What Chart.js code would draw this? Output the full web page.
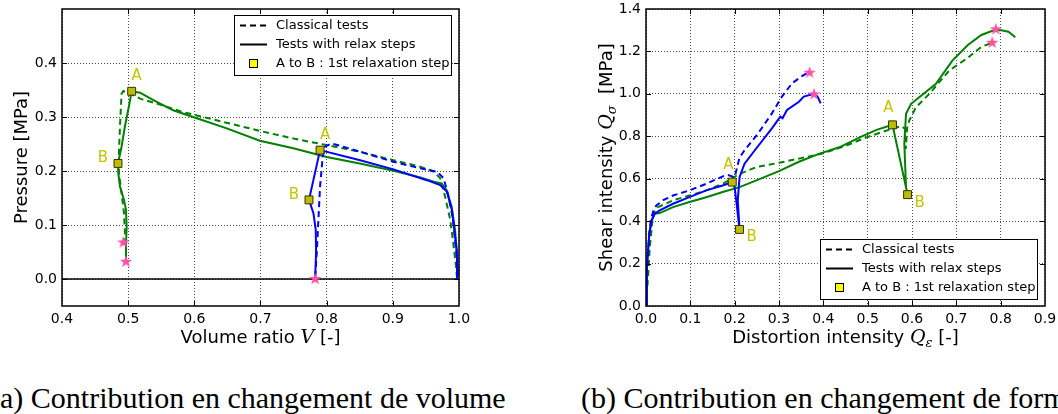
<!DOCTYPE html>
<html><head><meta charset="utf-8">
<script src="https://cdn.jsdelivr.net/npm/chart.js@4/dist/chart.umd.min.js"></script>
<style>
html,body{margin:0;padding:0;background:#fff;overflow:hidden;}
body{width:1058px;height:414px;position:relative;}
canvas{position:absolute;top:0;}
#cA{left:0;width:470px;height:350px;}
#cB{left:530px;width:528px;height:350px;}
.cap{position:absolute;top:383px;font-family:'Liberation Serif',serif;font-size:30px;line-height:30px;white-space:nowrap;color:#000;}
</style></head><body>
<canvas id="cA" width="470" height="350"></canvas>
<canvas id="cB" width="528" height="350"></canvas>
<div class="cap" style="left:-10px">(a) Contribution en changement de volume</div>
<div class="cap" style="left:581px">(b) Contribution en changement de forme</div>
<script>
// ---------- (a) Volume ratio V vs Pressure ----------
const volXTicks = [0.4, 0.5, 0.6, 0.7, 0.8, 0.9, 1.0];
const volYTicks = [0.0, 0.1, 0.2, 0.3, 0.4];

const volGreenClassicV = [0.997, 0.9955, 0.992, 0.9868, 0.979, 0.9717, 0.962, 0.9415, 0.901, 0.8506, 0.800, 0.750, 0.700, 0.650, 0.600, 0.583, 0.543, 0.518, 0.505, 0.4927, 0.490, 0.4876, 0.486, 0.486, 0.490, 0.4937, 0.4952, 0.4927];
const volGreenClassicP = [0.002, 0.023, 0.060, 0.1095, 0.1525, 0.1865, 0.1987, 0.208, 0.220, 0.2356, 0.248, 0.260, 0.274, 0.289, 0.304, 0.309, 0.325, 0.334, 0.342, 0.348, 0.343, 0.282, 0.2326, 0.196, 0.159, 0.122, 0.085, 0.0676];

const volGreenRelaxV = [0.9985, 0.997, 0.994, 0.9889, 0.981, 0.9738, 0.962, 0.9415, 0.901, 0.850, 0.800, 0.7496, 0.699, 0.649, 0.598, 0.568, 0.543, 0.530, 0.518, 0.5053, 0.500, 0.495, 0.490, 0.4846, 0.4851, 0.4876, 0.4937, 0.4967, 0.4977, 0.4967, 0.4967];
const volGreenRelaxP = [0.005, 0.048, 0.091, 0.134, 0.165, 0.177, 0.180, 0.188, 0.2005, 0.214, 0.226, 0.242, 0.256, 0.279, 0.300, 0.3125, 0.328, 0.337, 0.345, 0.3476, 0.3125, 0.282, 0.245, 0.214, 0.196, 0.171, 0.1465, 0.128, 0.097, 0.062, 0.032];

const volBlueClassicV = [0.998, 0.996, 0.991, 0.9843, 0.9768, 0.9667, 0.9415, 0.901, 0.8506, 0.8252, 0.8076, 0.7975, 0.794, 0.790, 0.7875, 0.785, 0.7826];
const volBlueClassicP = [0.005, 0.048, 0.1095, 0.1525, 0.1865, 0.1987, 0.205, 0.217, 0.2356, 0.245, 0.251, 0.245, 0.226, 0.171, 0.1095, 0.048, 0.002];

const volBlueRelaxV = [0.9975, 0.997, 0.994, 0.9893, 0.9817, 0.9716, 0.9515, 0.901, 0.8506, 0.790, 0.7733, 0.780, 0.7835, 0.784, 0.7826];
const volBlueRelaxP = [0.0, 0.048, 0.079, 0.128, 0.162, 0.174, 0.183, 0.203, 0.220, 0.2387, 0.1465, 0.122, 0.091, 0.048, 0.002];

const volAB_V = [0.5053, 0.4846, 0.790, 0.7733];
const volAB_P = [0.3476, 0.214, 0.2387, 0.1465];
const volStarV = [0.4927, 0.4967, 0.7826];
const volStarP = [0.0676, 0.032, 0.0];

// ---------- (b) Distortion intensity Qe vs Shear intensity Qs ----------
const shXTicks = [0.0, 0.1, 0.2, 0.3, 0.4, 0.5, 0.6, 0.7, 0.8, 0.9];
const shYTicks = [0.0, 0.2, 0.4, 0.6, 0.8, 1.0, 1.2, 1.4];

const shBlueClassicQe = [0.0, 0.003, 0.0076, 0.0107, 0.0168, 0.0234, 0.040, 0.061, 0.098, 0.136, 0.173, 0.185, 0.2, 0.211, 0.222, 0.253, 0.284, 0.3066, 0.3295, 0.352, 0.369];
const shBlueClassicQs = [0.0, 0.185, 0.343, 0.405, 0.45, 0.474, 0.50, 0.521, 0.545, 0.576, 0.611, 0.617, 0.607, 0.70, 0.733, 0.814, 0.908, 0.987, 1.05, 1.084, 1.105];

const shBlueRelaxQe = [0.0, 0.002, 0.0076, 0.013, 0.0196, 0.031, 0.061, 0.098, 0.136, 0.173, 0.1946, 0.2, 0.211, 0.207, 0.211, 0.222, 0.245, 0.284, 0.303, 0.308, 0.318, 0.345, 0.356, 0.375, 0.387, 0.394];
const shBlueRelaxQs = [0.0, 0.185, 0.343, 0.405, 0.435, 0.451, 0.482, 0.513, 0.545, 0.568, 0.584, 0.56, 0.361, 0.498, 0.607, 0.67, 0.733, 0.8375, 0.8925, 0.885, 0.924, 0.963, 0.987, 0.998, 0.987, 0.955];

const shGreenClassicQe = [0.0, 0.005, 0.008, 0.016, 0.027, 0.061, 0.098, 0.136, 0.173, 0.211, 0.249, 0.300, 0.350, 0.400, 0.450, 0.4975, 0.535, 0.575, 0.585, 0.586, 0.589, 0.594, 0.609, 0.639, 0.684, 0.726, 0.757, 0.781];
const shGreenClassicQs = [0.0, 0.15, 0.263, 0.435, 0.466, 0.498, 0.521, 0.545, 0.576, 0.623, 0.655, 0.675, 0.697, 0.720, 0.755, 0.795, 0.822, 0.848, 0.835, 0.74, 0.84, 0.875, 0.937, 1.0, 1.11, 1.17, 1.2225, 1.241];

const shGreenRelaxQe = [0.0, 0.002, 0.0076, 0.013, 0.0196, 0.031, 0.061, 0.098, 0.136, 0.173, 0.211, 0.249, 0.300, 0.345, 0.390, 0.436, 0.482, 0.52, 0.556, 0.590, 0.5865, 0.5827, 0.5865, 0.598, 0.6164, 0.654, 0.691, 0.726, 0.7566, 0.78, 0.7986, 0.8176, 0.833];
const shGreenRelaxQs = [0.0, 0.185, 0.343, 0.405, 0.435, 0.438, 0.466, 0.49, 0.513, 0.537, 0.5605, 0.592, 0.636, 0.680, 0.717, 0.748, 0.795, 0.83, 0.854, 0.525, 0.560, 0.765, 0.906, 0.953, 0.984, 1.047, 1.157, 1.23, 1.2775, 1.296, 1.301, 1.293, 1.2665];

const shAB_Qe = [0.1946, 0.211, 0.556, 0.590];
const shAB_Qs = [0.584, 0.361, 0.854, 0.525];
const shStarQe = [0.369, 0.379, 0.789, 0.781];
const shStarQs = [1.10, 0.998, 1.304, 1.241];

const abLabels = ['A', 'B', 'A', 'B'];
const legendLabels = ['Classical tests', 'Tests with relax steps', 'A to B : 1st relaxation step'];

// ---------- rendering ----------
const GREEN = '#008000', BLUE = '#0000ff', AB_FILL = '#bcbc00', AB_TEXT = '#c4c400', STAR_C = '#ff4fa6';
const SANS = "'DejaVu Sans', sans-serif";

function pts(xs, ys) { return xs.map((x, i) => ({ x: x, y: ys[i] })); }

function starImage() {
  const c = document.createElement('canvas'); c.width = c.height = 14;
  const g = c.getContext('2d'); g.fillStyle = STAR_C; g.beginPath();
  for (let i = 0; i < 10; i++) {
    const r = i % 2 ? 2.6 : 6.6; const a = -Math.PI / 2 + i * Math.PI / 5;
    g.lineTo(7 + r * Math.cos(a), 7 + r * Math.sin(a));
  }
  g.closePath(); g.fill(); return c;
}
const STAR = starImage();

function lineDs(xs, ys, color, dashed) {
  return { data: pts(xs, ys), showLine: true, borderColor: color, backgroundColor: color, borderWidth: 2,
    borderDash: dashed ? [6, 4] : [], pointRadius: 0, pointHoverRadius: 0, tension: 0, fill: false };
}

function drawRich(ctx, segs, cx, baseY) {
  let w = 0;
  for (const s of segs) { ctx.font = s.font; w += ctx.measureText(s.t).width; }
  let x = cx - w / 2;
  ctx.textAlign = 'left'; ctx.textBaseline = 'alphabetic'; ctx.fillStyle = '#000';
  for (const s of segs) { ctx.font = s.font; ctx.fillText(s.t, x, baseY + (s.dy || 0)); x += ctx.measureText(s.t).width; }
}

function drawLegend(ctx, a, pos) {
  const w = 218, h = 61;
  const x0 = Math.round(a.right - 7 - w);
  const y0 = Math.round(pos === 'top' ? a.top + 6 : a.bottom - 6 - h);
  ctx.save();
  ctx.fillStyle = '#fff'; ctx.fillRect(x0, y0, w, h);
  ctx.strokeStyle = '#000'; ctx.lineWidth = 1; ctx.strokeRect(x0 + 0.5, y0 + 0.5, w - 1, h - 1);
  const rows = [y0 + 10.5, y0 + 29.5, y0 + 48.5];
  ctx.lineWidth = 2;
  ctx.setLineDash([6, 4]); ctx.beginPath(); ctx.moveTo(x0 + 6, rows[0]); ctx.lineTo(x0 + 33, rows[0]); ctx.stroke();
  ctx.setLineDash([]); ctx.beginPath(); ctx.moveTo(x0 + 6, rows[1]); ctx.lineTo(x0 + 33, rows[1]); ctx.stroke();
  ctx.fillStyle = '#ffff00'; ctx.fillRect(x0 + 15.5, rows[2] - 4, 8, 8);
  ctx.lineWidth = 1; ctx.strokeRect(x0 + 15.5, rows[2] - 4, 8, 8);
  ctx.fillStyle = '#000'; ctx.font = '13px ' + SANS; ctx.textBaseline = 'middle'; ctx.textAlign = 'left';
  legendLabels.forEach((t, i) => ctx.fillText(t, x0 + 42, rows[i]));
  ctx.restore();
}

function decoPlugin(o) {
  return {
    id: 'deco' + o.key,
    beforeDatasetsDraw(chart) {
      if (!o.zeroLine) return;
      const { ctx, chartArea: a, scales: { y } } = chart;
      const py = y.getPixelForValue(0);
      ctx.save(); ctx.strokeStyle = '#000'; ctx.lineWidth = 1.5;
      ctx.beginPath(); ctx.moveTo(a.left, py); ctx.lineTo(a.right, py); ctx.stroke(); ctx.restore();
    },
    afterDatasetsDraw(chart) {
      const { ctx, chartArea: a, scales: { x, y } } = chart;
      ctx.save();
      ctx.strokeStyle = '#000'; ctx.lineWidth = 1;
      const L = 5;
      o.xTicks.forEach(v => {
        const px = Math.round(x.getPixelForValue(v)) + 0.5;
        if (px < a.left + 2 || px > a.right - 2) return;
        ctx.beginPath(); ctx.moveTo(px, a.bottom); ctx.lineTo(px, a.bottom - L);
        ctx.moveTo(px, a.top); ctx.lineTo(px, a.top + L); ctx.stroke();
      });
      o.yTicks.forEach(v => {
        const py = Math.round(y.getPixelForValue(v)) + 0.5;
        if (py < a.top + 2 || py > a.bottom - 2) return;
        ctx.beginPath(); ctx.moveTo(a.left, py); ctx.lineTo(a.left + L, py);
        ctx.moveTo(a.right, py); ctx.lineTo(a.right - L, py); ctx.stroke();
      });
      ctx.lineWidth = 1.5;
      ctx.strokeRect(a.left, a.top, a.right - a.left, a.bottom - a.top);
      // A / B labels
      ctx.fillStyle = AB_TEXT; ctx.font = '15px ' + SANS; ctx.textAlign = 'center'; ctx.textBaseline = 'middle';
      o.abX.forEach((v, i) => {
        const off = o.abOffset[abLabels[i]];
        ctx.fillText(abLabels[i], x.getPixelForValue(v) + off[0], y.getPixelForValue(o.abY[i]) + off[1]);
      });
      ctx.restore();
    },
    afterDraw(chart) {
      const { ctx, chartArea: a } = chart;
      drawLegend(ctx, a, o.legendPos);
      ctx.save();
      drawRich(ctx, o.xTitle, (a.left + a.right) / 2, a.bottom + 37);
      ctx.translate(a.left - o.yTitleGap, (a.top + a.bottom) / 2);
      ctx.rotate(-Math.PI / 2);
      drawRich(ctx, o.yTitle, 0, 0);
      ctx.restore();
    }
  };
}

function buildChart(id, s) {
  const datasets = [
    { data: pts(s.starX, s.starY), showLine: false, pointStyle: STAR, pointRadius: 7, pointHoverRadius: 7 },
    { data: pts(s.abX, s.abY), showLine: false, pointStyle: 'rect', pointRadius: 5.6, pointHoverRadius: 5.6,
      backgroundColor: AB_FILL, borderColor: '#333300', borderWidth: 1 },
    ...s.lines
  ];
  const tickFont = { family: SANS, size: 14 };
  const gridOpt = { color: 'rgba(0,0,0,0.7)', lineWidth: 1, drawTicks: false };
  return new Chart(document.getElementById(id), {
    type: 'scatter',
    data: { datasets },
    options: {
      responsive: false, animation: false, devicePixelRatio: 1,
      layout: { padding: { top: 9, right: s.padRight, left: 0, bottom: 0 } },
      plugins: { legend: { display: false }, tooltip: { enabled: false } },
      events: [],
      scales: {
        x: { type: 'linear', min: s.xMin, max: s.xMax,
          afterBuildTicks: sc => { sc.ticks = s.xTicks.map(v => ({ value: v })); },
          afterFit: sc => { sc.height = 44; sc.paddingLeft = 0; sc.paddingRight = 0; },
          ticks: { font: tickFont, color: '#000', padding: 5, autoSkip: false, maxRotation: 0, callback: v => v.toFixed(1) },
          grid: gridOpt, border: { display: false, dash: [1, 2] } },
        y: { type: 'linear', min: s.yMin, max: s.yMax,
          afterBuildTicks: sc => { sc.ticks = s.yTicks.map(v => ({ value: v })); },
          afterFit: sc => { sc.width = s.yAxisW; sc.paddingTop = 0; sc.paddingBottom = 0; },
          ticks: { font: tickFont, color: '#000', padding: 5, autoSkip: false, callback: v => v.toFixed(1) },
          grid: gridOpt, border: { display: false, dash: [1, 2] } }
      }
    },
    plugins: [decoPlugin(s.deco)]
  });
}

const NORM = '18px ' + SANS, ITAL = "italic 19px 'DejaVu Serif', serif", SUB = "italic 13px 'DejaVu Serif', serif";

buildChart('cA', {
  xMin: 0.4, xMax: 1.0, yMin: -0.05, yMax: 0.5, xTicks: volXTicks, yTicks: volYTicks,
  yAxisW: 62, padRight: 11,
  starX: volStarV, starY: volStarP, abX: volAB_V, abY: volAB_P,
  lines: [
    lineDs(volBlueRelaxV, volBlueRelaxP, BLUE, false),
    lineDs(volBlueClassicV, volBlueClassicP, BLUE, true),
    lineDs(volGreenRelaxV, volGreenRelaxP, GREEN, false),
    lineDs(volGreenClassicV, volGreenClassicP, GREEN, true)
  ],
  deco: { key: 'A', zeroLine: true, xTicks: volXTicks, yTicks: volYTicks, abX: volAB_V, abY: volAB_P,
    abOffset: { A: [5, -15], B: [-15, -5] }, legendPos: 'top', yTitleGap: 35,
    xTitle: [{ t: 'Volume ratio ', font: NORM }, { t: 'V', font: ITAL }, { t: ' [-]', font: NORM }],
    yTitle: [{ t: 'Pressure [MPa]', font: NORM }] }
});

buildChart('cB', {
  xMin: 0.0, xMax: 0.9, yMin: 0.0, yMax: 1.4, xTicks: shXTicks, yTicks: shYTicks,
  yAxisW: 116, padRight: 13,
  starX: shStarQe, starY: shStarQs, abX: shAB_Qe, abY: shAB_Qs,
  lines: [
    lineDs(shBlueRelaxQe, shBlueRelaxQs, BLUE, false),
    lineDs(shBlueClassicQe, shBlueClassicQs, BLUE, true),
    lineDs(shGreenRelaxQe, shGreenRelaxQs, GREEN, false),
    lineDs(shGreenClassicQe, shGreenClassicQs, GREEN, true)
  ],
  deco: { key: 'B', zeroLine: false, xTicks: shXTicks, yTicks: shYTicks, abX: shAB_Qe, abY: shAB_Qs,
    abOffset: { A: [-4, -17], B: [12, 8] }, legendPos: 'bottom', yTitleGap: 34,
    xTitle: [{ t: 'Distortion intensity ', font: NORM }, { t: 'Q', font: ITAL }, { t: 'ε', font: SUB, dy: 4 }, { t: ' [-]', font: NORM }],
    yTitle: [{ t: 'Shear intensity ', font: NORM }, { t: 'Q', font: ITAL }, { t: 'σ', font: SUB, dy: 4 }, { t: '  [MPa]', font: NORM }] }
});
</script>
</body></html>
